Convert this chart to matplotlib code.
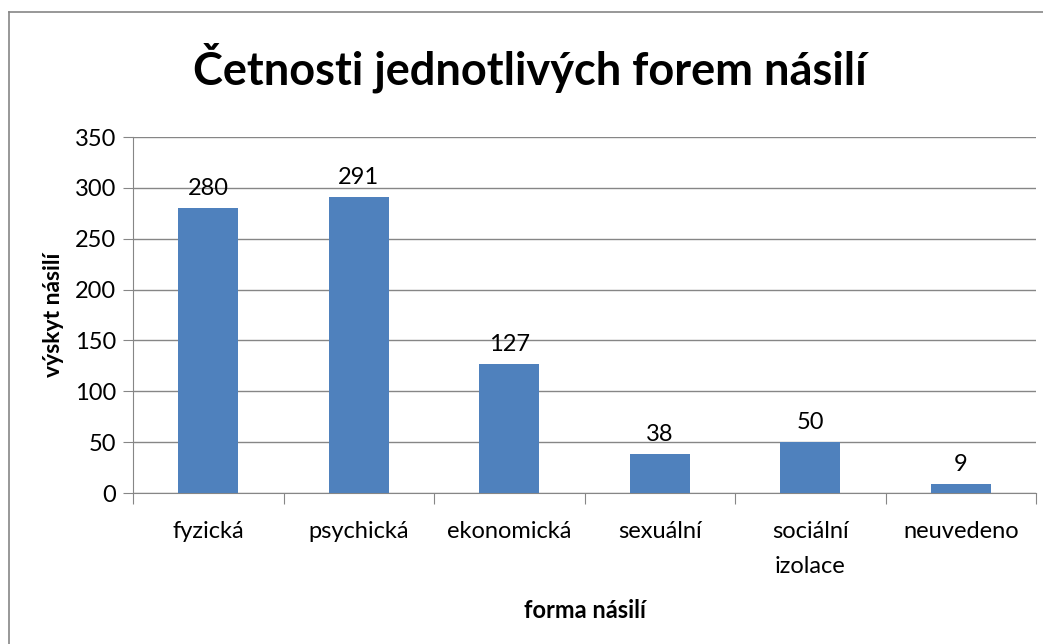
import matplotlib.pyplot as plt
from matplotlib.lines import Line2D
from matplotlib.ticker import MultipleLocator

categories = ["fyzická", "psychická", "ekonomická", "sexuální", "sociální\nizolace", "neuvedeno"]
counts = [280, 291, 127, 38, 50, 9]

plt.rcParams["font.family"] = ["Lato", "DejaVu Sans"]

W, H = 1043, 644
fig = plt.figure(figsize=(W / 100, H / 100), dpi=100)
ax = fig.add_axes([133 / W, 1 - 493 / H, (1036 - 133) / W, (493 - 137) / H])

x = list(range(len(categories)))
ax.bar(x, counts, width=0.4, color="#4F81BD", zorder=3)
for xi, v in zip(x, counts):
    ax.text(xi, v + 9, str(v), ha="center", va="bottom", fontsize=17)

ax.set_xlim(-0.5, len(categories) - 0.5)
ax.set_ylim(0, 350)
ax.yaxis.set_major_locator(MultipleLocator(50))
ax.grid(axis="y", color="#868686", linewidth=1, zorder=0)

# category boundaries get the tick marks, labels sit between them
ax.set_xticks([i - 0.5 for i in range(len(categories) + 1)])
ax.set_xticklabels([])
ax.set_xticks(x, minor=True)
ax.set_xticklabels(categories, minor=True, fontsize=17, linespacing=1.85)
ax.tick_params(axis="x", which="minor", length=0, pad=20)
ax.tick_params(axis="x", which="major", length=8, color="#868686")
ax.tick_params(axis="y", length=7, color="#868686", labelsize=17, pad=5)

for side in ("top", "right"):
    ax.spines[side].set_visible(False)
for side in ("left", "bottom"):
    ax.spines[side].set_color("#868686")

ax.set_ylabel("výskyt násilí", fontsize=16.5, fontweight="bold", labelpad=8)
ax.set_xlabel("forma násilí", fontsize=17, fontweight="bold", labelpad=16)

fig.text(0.508, 1 - 68 / H, "Četnosti jednotlivých forem násilí", ha="center", va="center",
         fontsize=32.5, fontweight="bold")

# chart frame: only left and top edges fall inside the picture
fig.lines.append(Line2D([8.5 / W, 8.5 / W], [0, 1 - 11.5 / H], transform=fig.transFigure,
                        color="#868686", linewidth=1.2))
fig.lines.append(Line2D([8.5 / W, 1], [1 - 11.5 / H, 1 - 11.5 / H], transform=fig.transFigure,
                        color="#868686", linewidth=1.2))

fig.savefig("out.png", dpi=100)
